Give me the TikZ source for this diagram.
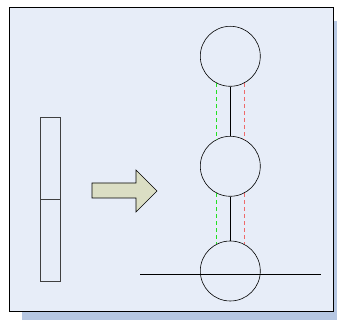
\documentclass[tikz,border=0pt]{standalone}
\usepackage{tikz}
\usetikzlibrary{positioning, calc}
\usepackage{xcolor}
\definecolor{panelbg}{HTML}{E7EDF8}
\definecolor{panelshadow}{HTML}{B6C7E2}
\definecolor{olivefill}{HTML}{DBDEC4}
\definecolor{bondgreen}{HTML}{22E022}
\definecolor{bondred}{HTML}{EE6A6A}

\begin{document}
\begin{tikzpicture}[x=1pt, y=1pt, line width=0.6pt,
    ball/.style={draw, circle, minimum size=60pt, inner sep=0pt},
    barcell/.style={draw=black!75, rectangle, minimum width=20.5pt, minimum height=82pt, inner sep=0pt},
    greendash/.style={bondgreen, line width=0.8pt, dash pattern=on 4pt off 3pt},
    reddash/.style={bondred, line width=0.8pt, dash pattern=on 4pt off 3pt}]
  \useasboundingbox (0,0) rectangle (337,320);
  % panel with drop shadow
  \fill[panelshadow] (22,0) rectangle (337,299.3);
  \draw[fill=panelbg] (9,9) rectangle (333,313);
  % the bar, two cells
  \node[barcell] (upper) at (50.3,162) {};
  \node[barcell, below=0pt of upper] (lower) {};
  % block arrow
  \draw[fill=olivefill] (92,122) -- (92,137) -- (136,137) -- (136,150) -- (157,129)
    -- (136,108) -- (136,122) -- cycle;
  % three balls
  \node[ball] (top) at (230.3,263.7) {};
  \node[ball] (mid) at (230.3,153.7) {};
  \node[ball] (bot) at (230.3,49) {};
  \draw (top.south) -- (mid.north);
  \draw (mid.south) -- (bot.north);
  \draw[greendash] (top.242) -- (mid.118);
  \draw[reddash] (top.298) -- (mid.62);
  \draw[greendash] (mid.242) -- (bot.118);
  \draw[reddash] (mid.298) -- (bot.62);
  % ground line
  \coordinate (gl) at (140,46);
  \coordinate (gr) at (321,46);
  \draw (gl) -- (gr);
\end{tikzpicture}
\end{document}
